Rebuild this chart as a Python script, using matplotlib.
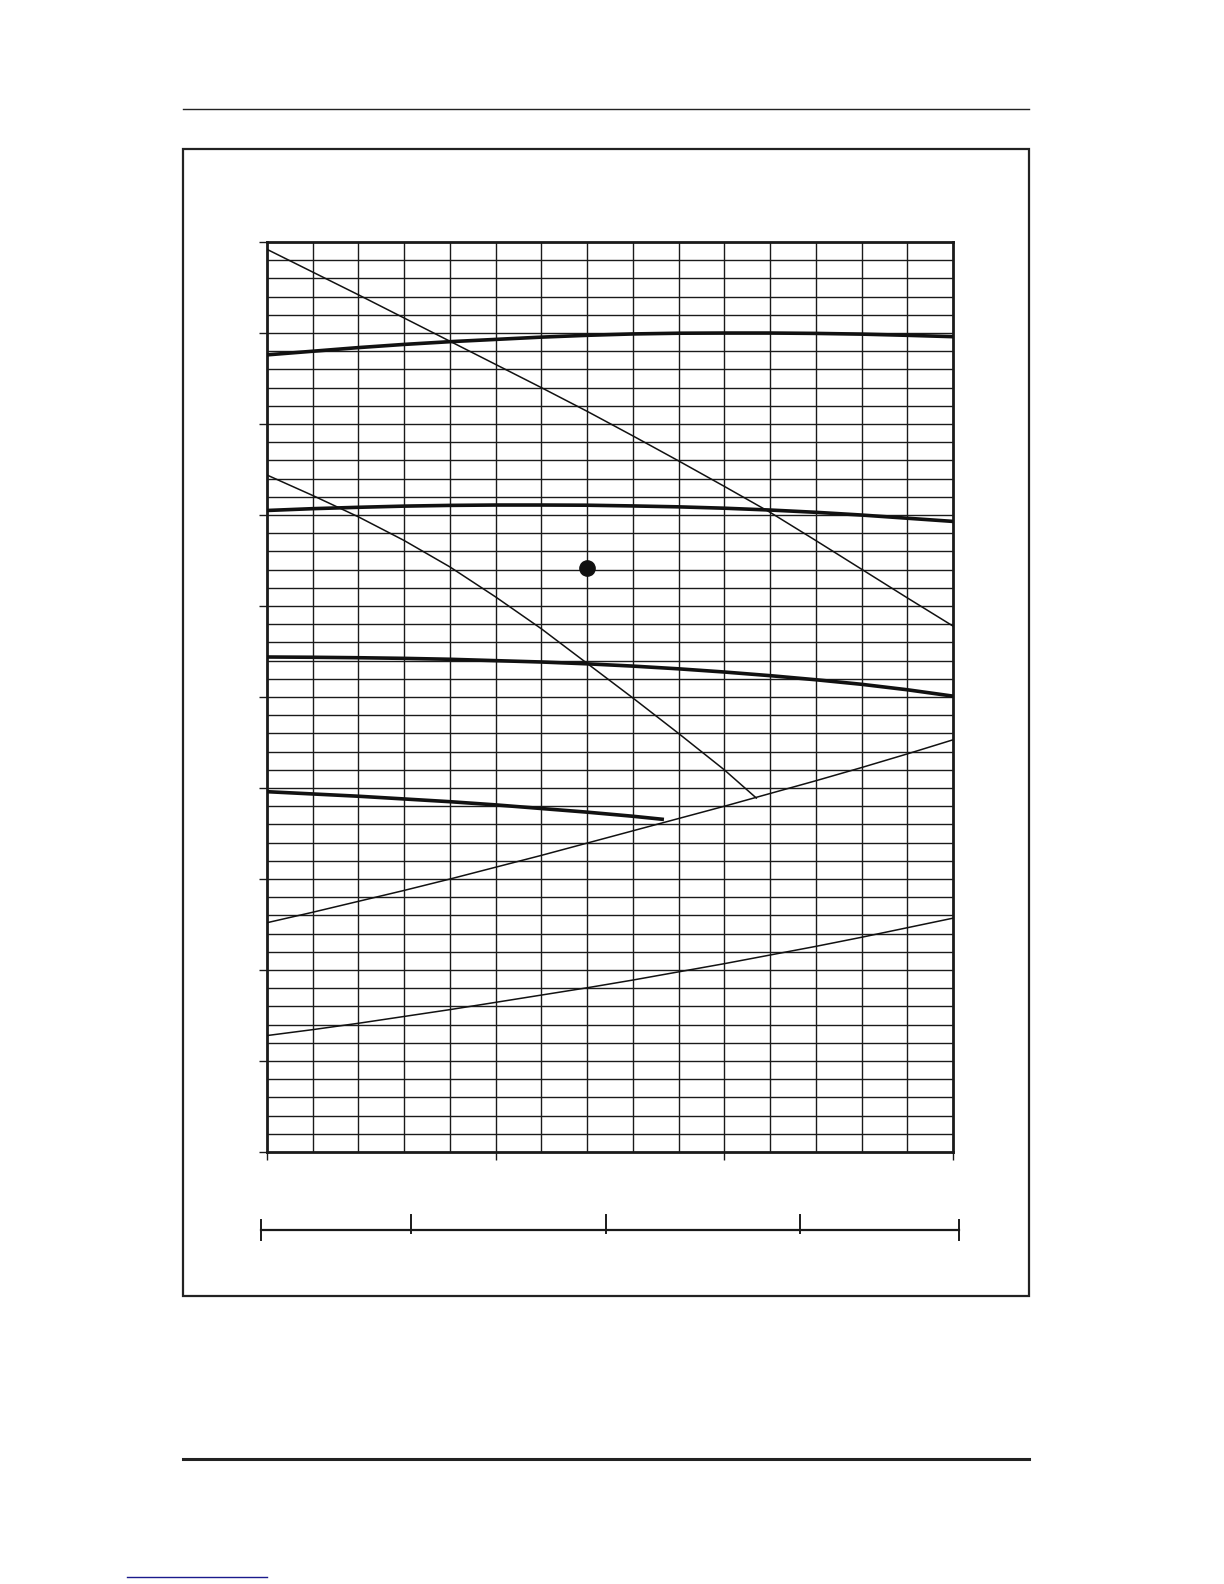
import numpy as np
import matplotlib
matplotlib.use("Agg")
import matplotlib.pyplot as plt
from matplotlib.lines import Line2D
from matplotlib.patches import Rectangle

# grid columns 0..15, rows 0..10 (5 sub-rows per major)
cols = np.arange(16)

# thin falling curve, upper
curve_a = [9.92, 9.67, 9.42, 9.165, 8.91, 8.655, 8.40, 8.14, 7.87, 7.595, 7.315, 7.03, 6.72, 6.405, 6.09, 5.78]
# thick flat curves
curve_b = [8.76, 8.80, 8.84, 8.875, 8.905, 8.93, 8.955, 8.975, 8.99, 8.998, 9.0, 9.0, 8.996, 8.988, 8.975, 8.96]
curve_c = [7.05, 7.07, 7.085, 7.098, 7.106, 7.11, 7.11, 7.108, 7.10, 7.09, 7.075, 7.055, 7.03, 7.0, 6.965, 6.93]
curve_e = [5.44, 5.437, 5.432, 5.425, 5.415, 5.40, 5.385, 5.365, 5.34, 5.31, 5.275, 5.235, 5.19, 5.14, 5.08, 5.01]
# thin falling curve, lower (stops on curve_g)
d_x = [0, 1, 2, 3, 4, 5, 6, 7, 8, 9, 10, 10.7]
curve_d = [7.44, 7.215, 6.98, 6.72, 6.43, 6.10, 5.75, 5.37, 4.99, 4.60, 4.20, 3.89]
# short thick curve
f_x = [0, 1, 2, 3, 4, 5, 6, 7, 8, 8.68]
curve_f = [3.96, 3.935, 3.91, 3.88, 3.85, 3.815, 3.775, 3.735, 3.69, 3.655]
# thin rising curves
curve_g = [2.52, 2.635, 2.755, 2.875, 3.0, 3.13, 3.26, 3.395, 3.53, 3.665, 3.80, 3.94, 4.08, 4.225, 4.375, 4.53]
curve_h = [1.28, 1.345, 1.415, 1.49, 1.565, 1.645, 1.725, 1.805, 1.89, 1.98, 2.07, 2.165, 2.26, 2.36, 2.465, 2.57]

# operating point
point_x = [7.0]
point_y = [6.42]

# lower scale bar ticks (fraction of its length)
scale_ticks = [0.0, 0.215, 0.494, 0.772, 1.0]

fig = plt.figure(figsize=(12.24, 15.84), dpi=100)

# page rules and chart frame
fig.add_artist(Line2D([0.1495, 0.8407], [0.9312, 0.9312], color="#222222", lw=1.0))
fig.add_artist(Line2D([0.1495, 0.8407], [0.0789, 0.0789], color="#222222", lw=2.2))
fig.add_artist(Line2D([0.1038, 0.2181], [0.0044, 0.0044], color="#1a1a8c", lw=1.0))
fig.add_artist(Rectangle((0.1495, 0.1818), 0.6912, 0.7241, transform=fig.transFigure,
                         fill=False, edgecolor="#222222", lw=1.6))

ax = fig.add_axes([0.2181, 0.2727, 0.5605, 0.5745])
ax.set_xlim(0, 15)
ax.set_ylim(0, 10)

for x in range(1, 15):
    ax.axvline(x, color="#1a1a1a", lw=1.0, zorder=1)
for y in np.arange(0.2, 10, 0.2):
    ax.axhline(y, color="#1a1a1a", lw=1.0, zorder=1)

ax.plot(cols, curve_a, color="#111111", lw=1.1, zorder=3)
ax.plot(d_x, curve_d, color="#111111", lw=1.1, zorder=3)
ax.plot(cols, curve_g, color="#111111", lw=1.1, zorder=3)
ax.plot(cols, curve_h, color="#111111", lw=1.1, zorder=3)
ax.plot(cols, curve_b, color="#111111", lw=2.6, zorder=4)
ax.plot(cols, curve_c, color="#111111", lw=2.6, zorder=4)
ax.plot(cols, curve_e, color="#111111", lw=2.6, zorder=4)
ax.plot(f_x, curve_f, color="#111111", lw=2.6, zorder=4, solid_capstyle="butt")
ax.plot(point_x, point_y, "o", color="#111111", ms=11, zorder=5)

ax.set_xticks([0, 5, 10, 15])
ax.set_yticks(range(0, 11))
ax.set_xticklabels([])
ax.set_yticklabels([])
ax.tick_params(length=6, width=1.0, color="#1a1a1a")
for s in ax.spines.values():
    s.set_linewidth(2.0)
    s.set_color("#1a1a1a")

# secondary scale bar under the chart
bar_x0, bar_w, bar_y = 0.2132, 0.5703, 0.2235
fig.add_artist(Line2D([bar_x0, bar_x0 + bar_w], [bar_y, bar_y], color="#1a1a1a", lw=1.6))
for t in scale_ticks:
    tx = bar_x0 + bar_w * t
    if t in (0.0, 1.0):
        fig.add_artist(Line2D([tx, tx], [bar_y - 0.0063, bar_y + 0.0063], color="#1a1a1a", lw=1.4))
    else:
        fig.add_artist(Line2D([tx, tx], [bar_y - 0.002, bar_y + 0.0095], color="#1a1a1a", lw=1.4))

plt.savefig("out.png", dpi=100)
